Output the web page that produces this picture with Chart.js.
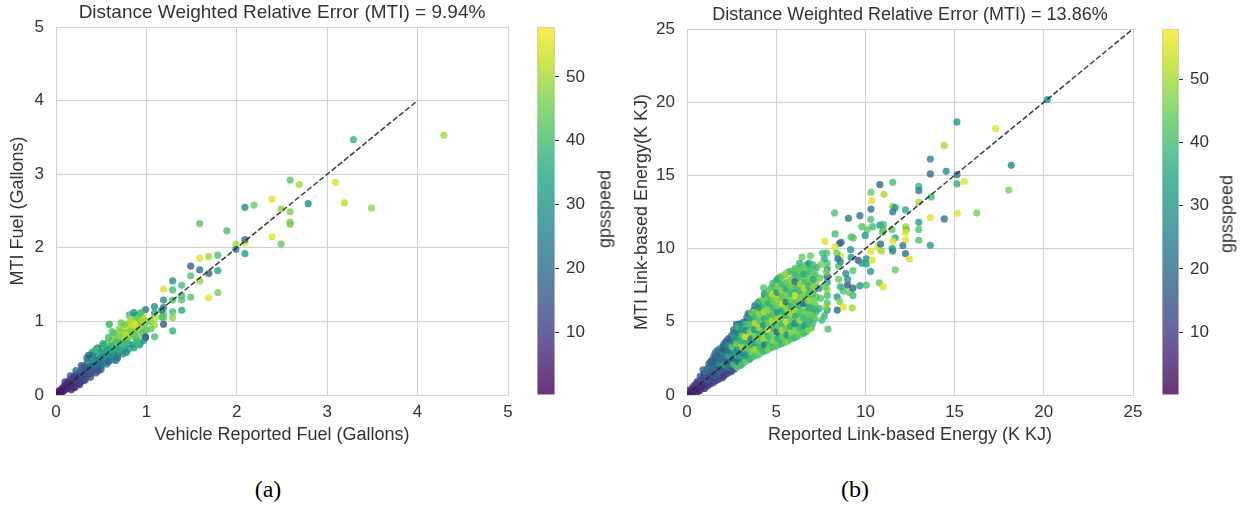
<!DOCTYPE html>
<html><head><meta charset="utf-8">
<script src="https://cdn.jsdelivr.net/npm/chart.js@4.4.1/dist/chart.umd.min.js"></script>
<style>
html,body{margin:0;padding:0;background:#fff;}
#page{position:relative;width:1241px;height:505px;overflow:hidden;background:#fff;font-family:'Liberation Sans',Arial,sans-serif;}
.box{position:absolute;}
.cbl{position:absolute;font-size:18px;color:#333;transform:translate(-50%,-50%) rotate(-90deg);white-space:nowrap;}
.cap{position:absolute;font-family:'Liberation Serif','Times New Roman',serif;font-size:24px;color:#000;transform:translate(-50%,-50%);white-space:nowrap;}
</style></head><body>
<div id="page">
  <div class="box" style="left:0;top:0;width:530px;height:460px"><canvas id="fuel" width="530" height="460"></canvas></div>
  <div class="box" style="left:537px;top:7px;width:70px;height:408px"><canvas id="fuelBar" width="70" height="408"></canvas></div>
  <div class="box" style="left:620px;top:0;width:530px;height:460px"><canvas id="energy" width="530" height="460"></canvas></div>
  <div class="box" style="left:1162px;top:9px;width:70px;height:406px"><canvas id="energyBar" width="70" height="406"></canvas></div>
  <div class="cbl" style="left:605px;top:209px">gpsspeed</div>
  <div class="cbl" style="left:1227px;top:214px">gpsspeed</div>
  <div class="cap" style="left:268px;top:489px">(a)</div>
  <div class="cap" style="left:855px;top:489px">(b)</div>
</div>
<script>
// ---------- data ----------
const fuelTicks = [0,1,2,3,4,5];
const energyTicks = [0,5,10,15,20,25];
const speedTicks = [10,20,30,40,50];
const fuelSpeedRange = [0.2,57.8];
const energySpeedRange = [0.1,57.9];
const fuelLine = [[0,0],[4,4]];
const energyLine = [[0,0],[25,25]];

// (a) dense band near the origin
const fuelBandX = [
0.02,0.03,0.04,0.05,0.06,0.07,0.08,0.09,0.10,0.11,
0.12,0.13,0.14,0.15,0.16,0.17,0.18,0.19,0.20,0.21,
0.22,0.23,0.24,0.25,0.26,0.27,0.28,0.29,0.30,0.31,
0.32,0.33,0.34,0.35,0.36,0.37,0.38,0.39,0.40,0.41,
0.42,0.43,0.44,0.45,0.46,0.47,0.48,0.49,0.50,0.51,
0.52,0.53,0.54,0.55,0.56,0.57,0.58,0.59,0.60,0.61,
0.62,0.63,0.64,0.65,0.66,0.67,0.68,0.69,0.70,0.71,
0.72,0.73,0.74,0.75,0.76,0.77,0.78,0.79,0.80,0.81,
0.82,0.83,0.84,0.85,0.86,0.87,0.88,0.89,0.90,0.91,
0.92,0.93,0.94,0.95,0.96,0.97,0.98,0.99,1.00,0.99,
0.05,0.10,0.15,0.20,0.25,0.30,0.35,0.40,0.45,0.50,0.55,0.60,0.65,0.70,0.75,0.80,0.85,0.90,0.95,1.00,
0.12,0.22,0.32,0.42,0.52,0.62,0.72,0.82,0.92,0.18,0.28,0.38,0.48,0.58,0.68,0.78,0.88,0.98];
const fuelBandY = [
0.03,0.05,0.02,0.07,0.04,0.09,0.05,0.12,0.07,0.14,
0.09,0.17,0.10,0.20,0.13,0.07,0.22,0.15,0.25,0.11,
0.18,0.28,0.14,0.22,0.31,0.17,0.26,0.36,0.20,0.30,
0.40,0.24,0.33,0.45,0.28,0.38,0.50,0.30,0.42,0.55,
0.34,0.47,0.60,0.37,0.52,0.42,0.62,0.48,0.40,0.57,
0.67,0.46,0.53,0.62,0.70,0.48,0.58,0.96,0.66,0.52,
0.74,0.61,0.56,0.70,0.80,0.63,0.54,0.75,0.68,0.86,
0.60,0.78,0.72,0.90,0.64,0.84,0.76,0.95,0.70,1.09,
0.88,0.80,1.00,0.68,0.92,0.84,1.05,0.76,0.97,0.88,
1.10,0.70,1.02,0.92,0.84,1.06,0.96,1.16,0.88,0.78,
0.05,0.10,0.15,0.19,0.26,0.31,0.35,0.39,0.46,0.50,0.56,0.59,0.64,0.71,0.76,0.80,0.86,0.91,0.97,1.00,
0.13,0.24,0.36,0.45,0.58,0.68,0.80,0.92,1.04,0.14,0.24,0.33,0.44,0.52,0.62,0.70,0.80,1.00];
const fuelBandSpeed = [
3,4,3,5,4,6,5,7,6,8,
6,9,7,10,8,6,12,9,14,8,
10,15,9,12,18,10,13,20,11,14,
22,12,16,25,13,18,24,15,20,30,
16,22,35,18,28,20,38,26,18,33,
42,22,30,36,44,25,32,42,38,26,
45,34,28,40,46,30,24,42,36,48,
30,44,38,50,32,46,40,52,34,40,
48,42,54,30,50,44,46,36,52,46,
44,28,50,48,40,54,46,22,42,18,
4,6,8,10,13,16,18,20,24,28,32,34,38,40,44,46,48,50,46,44,
6,9,14,30,36,44,48,52,46,8,12,16,24,30,36,40,44,50];

// (a) upper / lower edges of the band
const fuelFillX = [
0.10,0.16,0.22,0.28,0.34,0.40,0.46,0.52,0.58,0.64,0.70,0.76,0.82,0.88,0.94,0.36,0.44,0.62,0.72,0.86,
0.20,0.26,0.32,0.38,0.44,0.50,0.56,0.62,0.68,0.74,0.80,0.86,0.92,0.97,0.47,0.58,0.66,0.78,0.90,0.96,
0.33,0.43,0.53,0.63,0.73,0.83,0.93,0.57,0.67,0.77,0.87,0.97];
const fuelFillY = [
0.18,0.26,0.33,0.40,0.50,0.58,0.64,0.70,0.78,0.84,0.90,0.96,1.02,1.08,1.12,0.54,0.62,0.86,0.98,1.12,
0.10,0.14,0.20,0.24,0.30,0.35,0.42,0.48,0.50,0.56,0.62,0.64,0.68,0.74,0.33,0.45,0.47,0.58,0.72,0.80,
0.30,0.40,0.52,0.66,0.70,0.86,0.96,0.62,0.72,0.82,0.96,1.02];
const fuelFillSpeed = [
8,12,20,16,24,30,22,36,40,44,48,46,50,44,40,18,40,42,44,28,
8,10,12,14,16,20,24,26,22,30,34,32,36,30,14,20,24,28,40,46,
15,22,28,36,40,46,48,34,42,52,54,50];

// (a) scattered points
const fuelOuterX = [
4.29,3.29,2.59,2.69,3.09,2.39,2.19,2.09,2.79,3.19,
3.49,2.49,2.59,2.59,2.59,1.59,1.89,2.39,2.49,1.99,
2.09,2.09,1.99,2.09,1.59,1.69,1.79,1.59,1.69,1.79,
1.59,1.79,1.69,1.49,1.49,1.29,1.19,1.29,1.39,1.49,
1.39,1.39,1.29,1.19,1.19,1.39,1.29,1.09,1.09,1.19,
1.19,1.29,1.29,1.19,1.09,0.99,0.59,1.05,1.09,1.05,
1.10,1.17,1.17];
const fuelOuterY = [
3.53,3.47,2.92,2.86,2.89,2.66,2.58,2.55,2.60,2.61,
2.54,2.53,2.49,2.35,2.32,2.33,2.23,2.15,2.05,2.05,
2.07,2.11,1.98,1.92,1.86,1.88,1.90,1.70,1.65,1.69,
1.55,1.39,1.32,1.75,1.62,1.55,1.44,1.43,1.49,1.33,
1.35,1.29,1.29,1.29,1.19,1.15,1.13,1.20,1.11,1.11,
1.05,1.05,0.87,0.96,0.79,0.79,0.96,1.00,0.95,0.90,
1.05,1.15,1.06];
const fuelOuterSpeed = [
50,38,42,50,55,55,44,28,28,52,
48,48,47,47,45,42,40,55,44,50,
55,22,25,32,55,50,40,22,18,33,
48,46,55,18,42,30,55,40,40,42,
40,42,40,28,28,34,40,28,32,44,
42,48,38,16,40,18,42,46,50,44,
52,26,42];

// (b) dense cloud, main columns
const energyCoreX = [
0.12,0.20,0.15,
0.32,0.40,0.30,0.38,
0.58,0.50,0.60,0.52,0.57,
0.72,0.80,0.70,0.78,0.74,
0.98,0.90,1.00,0.92,0.97,0.90,
1.15,1.24,1.18,1.25,1.16,1.22,
1.48,1.40,1.50,1.42,1.47,1.40,1.50,
1.66,1.74,1.68,1.75,1.65,1.72,1.68,
1.98,1.90,2.00,1.92,1.97,1.90,2.00,
2.16,2.24,2.18,2.25,2.15,2.22,2.18,
2.48,2.40,2.50,2.42,2.47,2.40,2.50,
2.66,2.74,2.68,2.75,2.65,2.72,2.68,2.77,
2.98,2.90,3.00,2.92,2.97,2.90,3.00,2.93,
3.16,3.24,3.18,3.25,3.15,3.22,3.18,3.25,
3.48,3.40,3.50,3.42,3.47,3.40,3.50,3.43,
3.66,3.74,3.68,3.75,3.65,3.72,3.68,3.75,
3.98,3.90,4.00,3.92,3.97,3.90,4.00,3.93,3.98,
4.16,4.24,4.18,4.25,4.15,4.22,4.18,4.25,4.30,
4.48,4.40,4.50,4.42,4.47,4.40,4.50,4.43,4.48,4.30,
4.66,4.74,4.68,4.75,4.65,4.72,4.68,4.75,4.66,4.72,
4.98,4.90,5.00,4.92,4.97,4.90,5.00,4.93,4.98,4.90,5.00,
5.16,5.24,5.18,5.25,5.15,5.22,5.18,5.25,5.16,5.22,5.18,
5.48,5.40,5.50,5.42,5.47,5.40,5.50,5.43,5.48,5.40,5.50,
5.66,5.74,5.68,5.75,5.65,5.72,5.68,5.75,5.66,5.72,5.68,
5.98,5.90,6.00,5.92,5.97,5.90,6.00,5.93,5.98,5.90,6.00,
6.16,6.24,6.18,6.25,6.15,6.22,6.18,6.25,6.16,6.22,
6.48,6.40,6.50,6.42,6.47,6.40,6.50,6.43,6.48,6.40,6.45,
6.66,6.74,6.68,6.75,6.65,6.72,6.68,6.75,6.66,6.72,
6.98,6.90,7.00,6.92,6.97,6.90,7.00,6.93,6.98,6.92,
7.16,7.24,7.18,7.25,7.15,7.22,7.18,7.25,
7.42,7.48,7.40,7.46];
const energyCoreY = [
0.08,0.22,0.34,
0.12,0.30,0.45,0.62,
0.22,0.40,0.58,0.76,0.92,
0.30,0.55,0.80,1.02,1.28,
0.45,0.72,0.96,1.20,1.46,1.72,
0.62,0.92,1.20,1.50,1.82,2.12,
0.85,1.14,1.46,1.76,2.06,2.36,2.62,
1.00,1.34,1.70,2.02,2.36,2.70,3.02,
1.18,1.56,1.90,2.26,2.60,2.96,3.30,
1.40,1.80,2.20,2.56,2.92,3.30,3.66,
1.60,2.00,2.40,2.80,3.20,3.60,4.05,
1.80,2.20,2.62,3.00,3.42,3.80,4.22,4.82,
2.00,2.40,2.80,3.20,3.60,4.00,4.40,4.85,
2.20,2.62,3.00,3.42,3.80,4.20,4.60,5.02,
2.40,2.85,3.30,3.75,4.20,4.65,5.10,5.56,
2.60,3.05,3.50,3.95,4.40,4.85,5.30,5.80,
2.75,3.20,3.65,4.10,4.55,5.00,5.45,5.90,6.30,
2.90,3.35,3.80,4.25,4.70,5.15,5.60,6.05,6.52,
3.05,3.50,3.95,4.40,4.85,5.30,5.75,6.20,6.65,7.32,
3.20,3.65,4.10,4.55,5.00,5.45,5.90,6.35,6.80,7.30,
3.35,3.80,4.25,4.70,5.15,5.60,6.05,6.50,6.95,7.40,7.78,
3.45,3.90,4.35,4.80,5.25,5.70,6.15,6.60,7.05,7.50,8.02,
3.60,4.05,4.50,4.95,5.40,5.85,6.30,6.75,7.20,7.65,8.22,
3.70,4.15,4.60,5.05,5.50,5.95,6.40,6.85,7.30,7.75,8.42,
3.90,4.35,4.80,5.25,5.70,6.15,6.60,7.05,7.50,7.95,8.50,
4.00,4.50,5.00,5.50,6.00,6.50,7.00,7.50,8.00,8.60,
4.20,4.70,5.20,5.70,6.20,6.70,7.20,7.70,8.20,8.70,9.42,
4.30,4.80,5.30,5.80,6.30,6.80,7.30,7.80,8.30,8.90,
4.60,5.10,5.60,6.10,6.60,7.10,7.60,8.10,8.60,9.50,
5.20,5.70,6.20,6.70,7.20,7.70,8.20,8.70,
5.90,6.60,7.30,8.00];
const energyCoreSpeed = [
3,5,6,
4,6,7,9,
4,6,8,10,12,
5,7,9,12,14,
5,8,10,13,15,18,
8,14,12,18,20,24,
10,14,12,20,17,24,22,
12,16,14,22,19,28,20,
12,18,15,24,20,30,18,
10,14,18,28,22,34,18,
12,16,30,22,38,26,15,
14,36,20,32,26,42,22,18,
38,18,30,44,24,36,28,20,
42,26,48,34,40,22,46,24,
40,36,52,30,44,38,48,18,
44,48,32,50,40,46,28,22,
36,42,55,40,48,34,44,38,20,
40,46,38,52,42,55,36,44,34,
42,36,48,44,30,50,40,46,38,42,
44,40,52,38,46,55,42,48,28,40,
38,46,42,50,36,44,48,40,46,38,44,
42,38,48,44,52,40,46,36,50,42,38,
40,46,36,42,48,44,30,52,40,46,42,
44,38,50,40,46,42,48,36,44,50,40,
36,44,40,48,42,28,46,40,52,44,38,
42,38,46,40,50,44,34,48,42,46,
40,46,36,44,42,48,40,38,46,42,44,
38,44,40,48,36,42,46,30,44,40,
42,36,46,40,44,32,48,42,38,44,
40,34,44,42,38,46,40,36,
38,42,28,44];

// (b) dense cloud, in-between columns
const energyFillX = [
1.30,1.35,1.31,1.34,1.29,1.33,
1.55,1.60,1.56,1.59,1.54,1.58,1.57,
1.80,1.85,1.81,1.84,1.79,1.83,1.82,
2.05,2.10,2.06,2.09,2.04,2.08,2.07,
2.30,2.35,2.31,2.34,2.29,2.33,2.32,
2.55,2.60,2.56,2.59,2.54,2.58,2.57,2.61,
2.80,2.85,2.81,2.84,2.79,2.83,2.82,2.86,
3.05,3.10,3.06,3.09,3.04,3.08,3.07,3.11,
3.30,3.35,3.31,3.34,3.29,3.33,3.32,3.36,
3.55,3.60,3.56,3.59,3.54,3.58,3.57,3.61,
3.80,3.85,3.81,3.84,3.79,3.83,3.82,3.86,3.80,
4.05,4.10,4.06,4.09,4.04,4.08,4.07,4.11,4.05,
4.30,4.35,4.31,4.34,4.29,4.33,4.32,4.36,4.30,4.34,
4.55,4.60,4.56,4.59,4.54,4.58,4.57,4.61,4.55,4.59,
4.80,4.85,4.81,4.84,4.79,4.83,4.82,4.86,4.80,4.84,4.81,
5.05,5.10,5.06,5.09,5.04,5.08,5.07,5.11,5.05,5.09,5.06,
5.30,5.35,5.31,5.34,5.29,5.33,5.32,5.36,5.30,5.34,5.31,
5.55,5.60,5.56,5.59,5.54,5.58,5.57,5.61,5.55,5.59,5.56,
5.80,5.85,5.81,5.84,5.79,5.83,5.82,5.86,5.80,5.84,5.81,
6.05,6.10,6.06,6.09,6.04,6.08,6.07,6.11,6.05,6.09,6.06,
6.30,6.35,6.31,6.34,6.29,6.33,6.32,6.36,6.30,6.34,6.31,
6.55,6.60,6.56,6.59,6.54,6.58,6.57,6.61,6.55,6.59,
6.80,6.85,6.81,6.84,6.79,6.83,6.82,6.86,6.80,6.84,
7.05,7.10,7.06,7.09,7.04,7.08,7.07,7.11,7.05];
const energyFillY = [
0.75,1.05,1.35,1.65,1.95,2.28,
0.95,1.28,1.60,1.92,2.25,2.58,2.85,
1.10,1.45,1.82,2.16,2.50,2.84,3.15,
1.30,1.70,2.06,2.42,2.78,3.12,3.48,
1.50,1.90,2.30,2.68,3.06,3.45,3.85,
1.70,2.10,2.50,2.90,3.30,3.70,4.12,4.45,
1.90,2.30,2.70,3.10,3.50,3.90,4.30,4.65,
2.10,2.50,2.90,3.30,3.70,4.10,4.50,4.95,
2.30,2.72,3.15,3.58,4.00,4.42,4.85,5.30,
2.50,2.95,3.40,3.85,4.30,4.75,5.20,5.65,
2.68,3.12,3.58,4.02,4.48,4.92,5.38,5.82,6.10,
2.82,3.28,3.72,4.18,4.62,5.08,5.52,5.98,6.40,
2.98,3.42,3.88,4.32,4.78,5.22,5.68,6.12,6.58,6.90,
3.12,3.58,4.02,4.48,4.92,5.38,5.82,6.28,6.72,7.12,
3.28,3.72,4.18,4.62,5.08,5.52,5.98,6.42,6.88,7.32,7.62,
3.40,3.85,4.30,4.75,5.20,5.65,6.10,6.55,7.00,7.45,7.90,
3.52,3.98,4.42,4.88,5.32,5.78,6.22,6.68,7.12,7.58,8.10,
3.65,4.10,4.55,5.00,5.45,5.90,6.35,6.80,7.25,7.70,8.30,
3.80,4.25,4.70,5.15,5.60,6.05,6.50,6.95,7.40,7.85,8.45,
3.95,4.42,4.90,5.38,5.85,6.32,6.80,7.28,7.75,8.25,8.65,
4.10,4.60,5.10,5.60,6.10,6.60,7.10,7.60,8.10,8.60,9.00,
4.25,4.75,5.25,5.75,6.25,6.75,7.25,7.75,8.25,8.80,
4.45,4.95,5.45,5.95,6.45,6.95,7.45,7.95,8.45,9.00,
4.90,5.40,5.90,6.40,6.90,7.40,7.90,8.40,8.90];
const energyFillSpeed = [
10,14,13,18,22,16,
12,15,14,24,20,16,22,
12,18,16,28,22,18,24,
11,15,34,19,26,14,22,
13,24,17,36,21,28,16,
15,40,22,30,44,24,34,20,
42,20,36,26,46,32,24,38,
40,34,22,50,38,44,30,26,
44,30,42,38,55,28,40,22,
38,46,40,26,48,42,36,44,
42,50,36,46,30,52,40,46,24,
46,38,44,36,50,42,48,30,40,
38,24,50,40,30,36,52,42,46,26,
46,42,38,55,44,40,48,36,44,42,
40,48,44,36,50,42,38,46,52,44,40,
44,36,20,42,48,30,44,50,28,46,36,
38,44,50,40,46,36,52,42,48,40,44,
46,28,44,55,38,48,22,46,36,44,50,
42,48,36,44,50,40,46,38,44,48,42,
40,46,26,36,48,44,55,40,20,38,44,
44,38,48,42,36,46,40,50,42,44,38,
42,30,40,44,22,46,52,42,36,44,
46,40,44,36,48,42,38,46,40,30,
40,44,38,46,42,48,36,44,40];

// (b) scattered points
const energyOuterX = [
20.2,15.13,17.3,14.42,13.64,13.64,14.53,15.13,15.54,15.13,
18.18,18.04,10.81,11.53,11.04,12.99,12.99,12.99,13.69,11.53,
11.67,11.53,12.25,13.64,14.42,15.15,16.24,10.81,11.0,12.25,
12.3,12.99,12.99,12.99,13.64,11.67,11.53,12.25,12.1,12.25,
12.46,11.53,11.67,8.27,9.05,9.69,10.31,10.35,10.31,10.3,
10.1,9.2,8.3,7.73,8.55,8.6,9.2,9.6,10.05,10.05,
10.3,10.7,10.85,11.0,11.5,12.25,11.5,10.78,11.0,10.05,
8.3,8.64,7.83,8.4,9.17,9.32,9.8,10.4,9.99,10.38,
10.95,10.9,9.8,10.29,9.69,9.26,8.76,9.3,9.0,9.0,
9.3,8.76,8.42,8.42,7.86,7.86,7.86,7.86,7.86,7.86,
7.86,7.86,7.9,7.7,7.8,7.75,7.8,7.7,8.5,8.6,
8.5,8.6,8.55,8.9,9.1,9.3,8.45,7.6,7.5,7.55];
const energyOuterY = [
20.17,18.65,18.19,17.05,16.12,15.1,15.28,15.05,14.6,14.42,
15.69,14.0,14.37,14.53,13.71,14.25,13.96,13.17,13.53,12.89,
12.8,12.5,12.64,12.12,12.03,12.41,12.43,11.6,11.65,11.5,
11.3,11.8,11.31,10.57,10.23,10.74,10.51,10.6,10.2,9.66,
9.3,9.82,8.55,12.44,12.07,12.25,13.85,13.28,12.7,12.0,
11.3,10.8,11.0,10.5,10.35,9.5,9.4,9.2,9.3,8.95,
9.8,10.1,10.3,11.3,11.3,11.1,10.0,7.66,7.4,7.5,
10.1,10.43,9.7,9.7,9.93,10.73,11.5,11.5,10.9,9.2,
11.1,9.82,9.0,8.45,7.47,5.95,6.0,6.8,7.5,7.9,
8.5,7.1,6.7,5.8,5.8,6.3,6.8,7.2,7.7,8.1,
8.6,9.0,4.5,9.3,8.4,7.4,6.0,5.4,8.8,9.1,
7.9,7.4,6.4,8.3,7.0,7.3,9.3,9.7,8.9,5.1];
const energyOuterSpeed = [
30,30,55,50,27,20,28,22,55,36,
28,46,18,40,50,38,24,50,40,47,
30,24,35,55,22,55,45,30,40,50,
44,32,42,42,32,36,55,55,24,22,
55,30,44,42,24,22,44,55,22,42,
44,42,40,55,20,55,30,14,30,32,
55,55,20,40,44,55,30,44,55,42,
55,20,42,44,30,42,42,40,32,55,
44,50,32,32,32,50,55,38,14,30,
42,42,30,20,30,42,40,48,30,20,
30,42,42,36,46,44,48,38,42,30,
44,36,46,28,44,20,22,40,46,40];

// ---------- style ----------
const FONT = "'Liberation Sans', Arial, sans-serif";
const TXT = '#333333';
const GRID = '#cfcfcf';
const VIRIDIS = ['#440154','#482475','#414487','#355f8d','#2a788e','#21918c','#22a884','#44bf70','#7ad151','#bddf26','#fde725'];
function hex2rgb(h){return [parseInt(h.slice(1,3),16),parseInt(h.slice(3,5),16),parseInt(h.slice(5,7),16)];}
function viridis(t,a){
  t=Math.max(0,Math.min(1,t));
  const p=t*(VIRIDIS.length-1);
  const i=Math.min(VIRIDIS.length-2,Math.floor(p));
  const f=p-i;
  const c0=hex2rgb(VIRIDIS[i]), c1=hex2rgb(VIRIDIS[i+1]);
  const c=c0.map((v,k)=>Math.round(v+(c1[k]-v)*f));
  return 'rgba('+c[0]+','+c[1]+','+c[2]+','+a+')';
}

function scatterChart(id, cfg){
  const pts=[], cols=[];
  cfg.groups.forEach(g=>{
    const n=Math.min(g[0].length,g[1].length,g[2].length);
    for(let i=0;i<n;i++){
      pts.push({x:g[0][i],y:g[1][i]});
      cols.push(viridis((g[2][i]-cfg.range[0])/(cfg.range[1]-cfg.range[0]),0.8));
    }
  });
  const tk=cfg.ticks;
  return new Chart(document.getElementById(id),{
    type:'scatter',
    data:{datasets:[
      {type:'line',data:cfg.line.map(p=>({x:p[0],y:p[1]})),borderColor:'rgba(38,38,38,0.9)',borderWidth:1.5,borderDash:[5.5,2.4],pointRadius:0,fill:false,tension:0},
      {type:'scatter',data:pts,pointRadius:3.6,pointBackgroundColor:cols,pointBorderWidth:0,pointBorderColor:'rgba(0,0,0,0)'}
    ]},
    options:{
      responsive:false,animation:false,events:[],devicePixelRatio:1,
      layout:{padding:{left:0,top:0,right:cfg.padRight,bottom:0}},
      plugins:{
        legend:{display:false},tooltip:{enabled:false},
        title:{display:true,text:cfg.title,fullSize:false,color:TXT,font:{family:FONT,size:cfg.titleSize,weight:'normal'},padding:{top:cfg.tTop,bottom:cfg.tBottom}}
      },
      scales:{
        x:{type:'linear',min:tk[0],max:tk[tk.length-1],
          afterBuildTicks:s=>{s.ticks=tk.map(v=>({value:v}));},
          afterFit:s=>{s.height=65;},
          grid:{color:GRID,lineWidth:1,drawTicks:false},
          border:{color:GRID,width:1},
          ticks:{padding:7,color:TXT,font:{family:FONT,size:17}},
          title:{display:true,text:cfg.xlabel,color:TXT,font:{family:FONT,size:18},padding:{top:0,bottom:14}}},
        y:{type:'linear',min:tk[0],max:tk[tk.length-1],
          afterBuildTicks:s=>{s.ticks=tk.map(v=>({value:v}));},
          afterFit:s=>{s.width=cfg.yWidth;},
          grid:{color:GRID,lineWidth:1,drawTicks:false},
          border:{color:GRID,width:1},
          ticks:{padding:12,color:TXT,font:{family:FONT,size:17}},
          title:{display:true,text:cfg.ylabel,color:TXT,font:{family:FONT,size:18},padding:{top:cfg.yTitlePad,bottom:0}}}
      }
    }
  });
}

function colorBar(id, range, yWidth){
  return new Chart(document.getElementById(id),{
    type:'bar',
    data:{labels:[''],datasets:[{
      data:[[range[0],range[1]]],
      backgroundColor:(c)=>{
        const ch=c.chart, a=ch.chartArea;
        if(!a) return 'rgba(0,0,0,0)';
        const g=ch.ctx.createLinearGradient(0,a.bottom,0,a.top);
        VIRIDIS.forEach((h,i)=>g.addColorStop(i/(VIRIDIS.length-1),viridis(i/(VIRIDIS.length-1),0.8)));
        return g;
      },
      borderColor:GRID,borderWidth:1,borderSkipped:false,barPercentage:1,categoryPercentage:1
    }]},
    options:{
      responsive:false,animation:false,events:[],devicePixelRatio:1,
      layout:{padding:{top:20,bottom:20,left:0,right:0}},
      plugins:{legend:{display:false},tooltip:{enabled:false},title:{display:false}},
      scales:{
        x:{display:false},
        y:{position:'right',min:range[0],max:range[1],
          afterBuildTicks:s=>{s.ticks=speedTicks.map(v=>({value:v}));},
          afterFit:s=>{s.width=yWidth;},
          grid:{drawOnChartArea:false,drawTicks:true,tickLength:4,color:TXT,lineWidth:1},
          border:{display:false},
          ticks:{padding:7,color:TXT,font:{family:FONT,size:17}}}
      }
    }
  });
}

scatterChart('fuel',{
  groups:[[fuelBandX,fuelBandY,fuelBandSpeed],[fuelFillX,fuelFillY,fuelFillSpeed],[fuelOuterX,fuelOuterY,fuelOuterSpeed]],
  range:fuelSpeedRange,ticks:fuelTicks,line:fuelLine,
  title:'Distance Weighted Relative Error (MTI) = 9.94%',xlabel:'Vehicle Reported Fuel (Gallons)',ylabel:'MTI Fuel (Gallons)',
  titleSize:19,padRight:22,yWidth:56,yTitlePad:7,tTop:1.6,tBottom:2.6});
scatterChart('energy',{
  groups:[[energyCoreX,energyCoreY,energyCoreSpeed],[energyFillX,energyFillY,energyFillSpeed],[energyOuterX,energyOuterY,energyOuterSpeed]],
  range:energySpeedRange,ticks:energyTicks,line:energyLine,
  title:'Distance Weighted Relative Error (MTI) = 13.86%',xlabel:'Reported Link-based Energy (K KJ)',ylabel:'MTI Link-based Energy(K KJ)',
  titleSize:18,padRight:17,yWidth:67,yTitlePad:11,tTop:4,tBottom:3.4});
colorBar('fuelBar',fuelSpeedRange,52);
colorBar('energyBar',energySpeedRange,53);
</script>
</body></html>
